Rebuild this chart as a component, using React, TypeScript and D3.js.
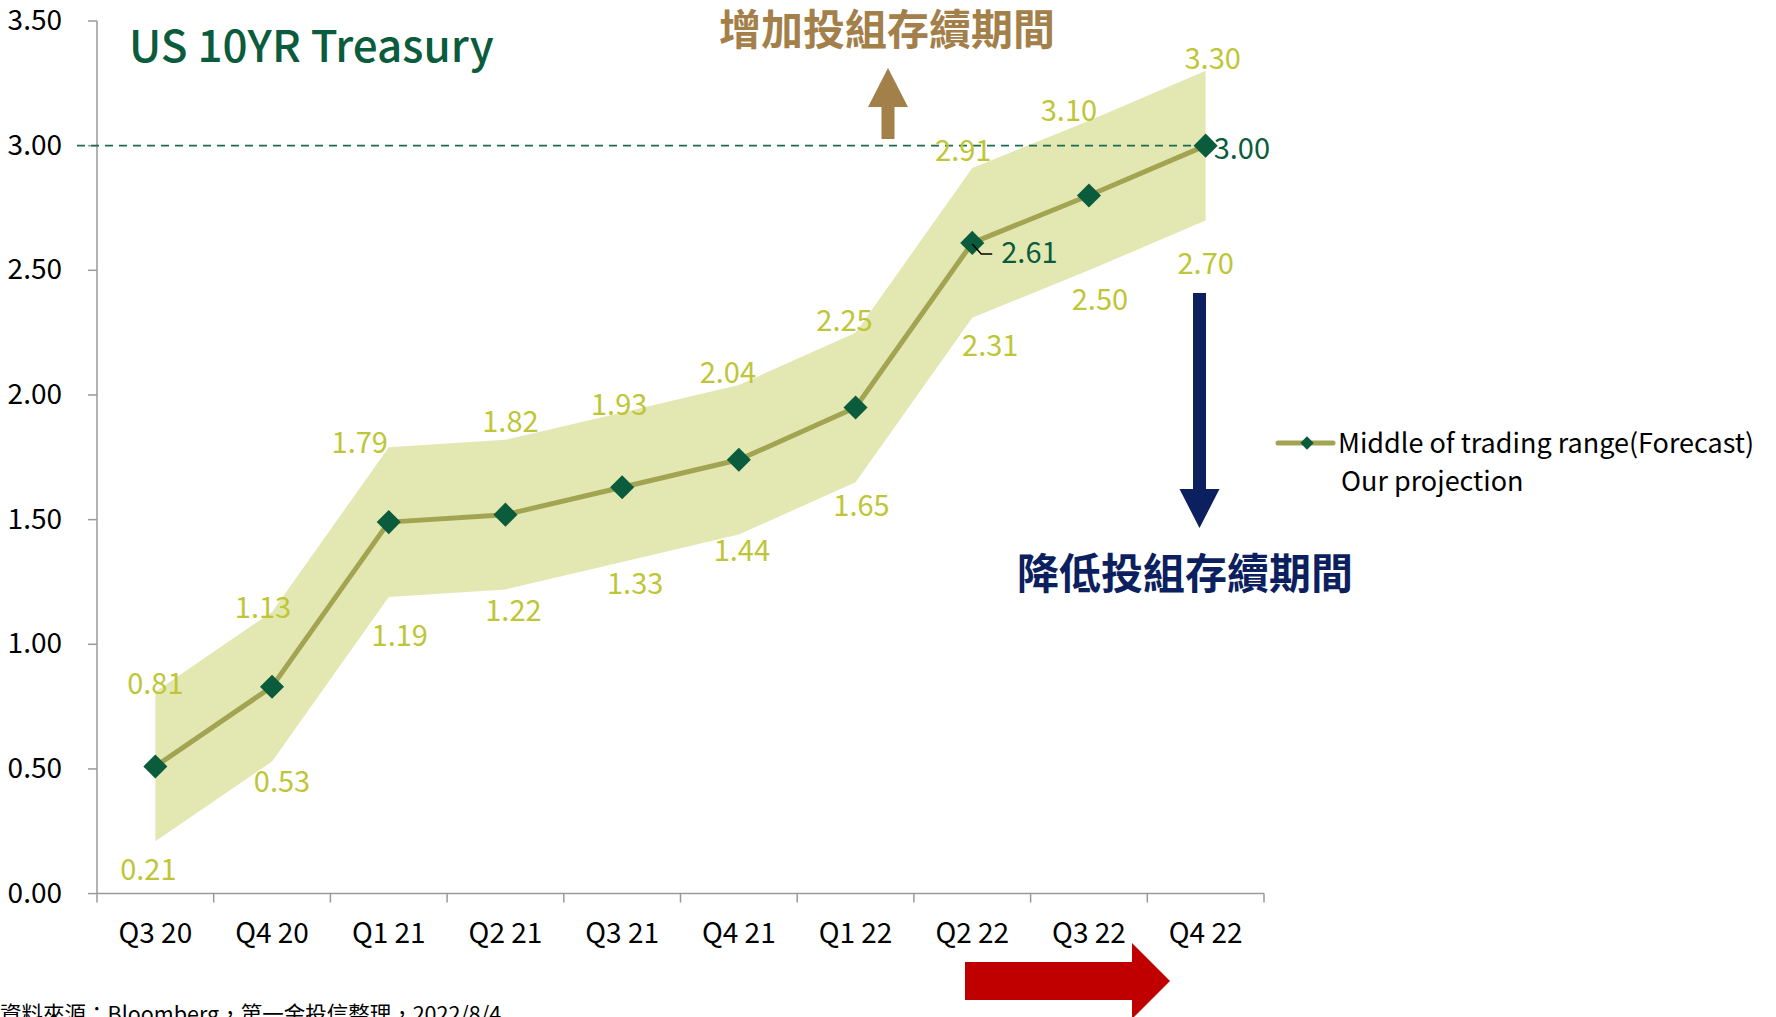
import React, { useEffect, useRef } from 'react';
import * as d3 from 'd3';

// quarters on the x axis
const quarters = ['Q3 20', 'Q4 20', 'Q1 21', 'Q2 21', 'Q3 21', 'Q4 21', 'Q1 22', 'Q2 22', 'Q3 22', 'Q4 22'];
// trading range (lower / upper edge of the band)
const rangeLow = [0.21, 0.53, 1.19, 1.22, 1.33, 1.44, 1.65, 2.31, 2.50, 2.70];
const rangeHigh = [0.81, 1.13, 1.79, 1.82, 1.93, 2.04, 2.25, 2.91, 3.10, 3.30];
// middle of trading range
const midpoint = [0.51, 0.83, 1.49, 1.52, 1.63, 1.74, 1.95, 2.61, 2.80, 3.00];
const labelledMid = ['Q2 22', 'Q4 22'];
const referenceLevel = 3.0;
const yMax = 3.5;

// hand nudges for the range labels, like the original has them
const highNudge = [[0, -7], [-9, -3], [-29, -4], [5, -17], [-3, -7], [-11, -11], [-11, -11], [-9, -17], [-20, -9], [7, -11]];
const lowNudge = [[-7, 29], [10, 21], [11, 40], [8, 22], [13, 22], [3, 17], [6, 24], [18, 29], [11, 30], [0, 44]];

const FONT = "'Noto Sans CJK TC', 'Noto Sans', sans-serif";

function App() {
    const chartRef = useRef<HTMLDivElement>(null);

    useEffect(() => {
        const root = d3.select(chartRef.current);
        root.selectAll('*').remove();

        const width = 1776;
        const height = 1017;

        const svg = root.append('svg')
            .attr('width', width)
            .attr('height', height)
            .style('position', 'absolute')
            .style('left', '0px')
            .style('top', '0px')
            .style('background', '#ffffff')
            .style('font-family', FONT);

        const x = d3.scaleBand().domain(quarters).range([97, 1264]).padding(0);
        const y = d3.scaleLinear().domain([0, yMax]).range([893.6, 21]);
        const cx = (q: string) => (x(q) as number) + x.bandwidth() / 2;

        const rows = quarters.map((q, i) => ({ q, lo: rangeLow[i], hi: rangeHigh[i], mid: midpoint[i] }));

        // band
        const area = d3.area<any>()
            .x(d => cx(d.q))
            .y0(d => y(d.lo))
            .y1(d => y(d.hi));
        svg.append('path')
            .attr('d', area(rows))
            .attr('fill', '#e3e8b3');

        // axes
        const axisColor = '#9a9a9a';
        svg.append('line')
            .attr('x1', 97).attr('x2', 97)
            .attr('y1', y(yMax)).attr('y2', y(0))
            .attr('stroke', axisColor).attr('stroke-width', 1.5);
        svg.append('line')
            .attr('x1', 97).attr('x2', 1264)
            .attr('y1', y(0)).attr('y2', y(0))
            .attr('stroke', axisColor).attr('stroke-width', 1.5);

        const yTicks = y.ticks(7);
        svg.selectAll('line.ytick')
            .data(yTicks)
            .enter()
            .append('line')
            .attr('class', 'ytick')
            .attr('x1', 88).attr('x2', 97)
            .attr('y1', d => y(d)).attr('y2', d => y(d))
            .attr('stroke', axisColor).attr('stroke-width', 1.5);
        svg.selectAll('text.ylabel')
            .data(yTicks)
            .enter()
            .append('text')
            .attr('class', 'ylabel')
            .attr('x', 62)
            .attr('y', d => y(d) + 9)
            .attr('text-anchor', 'end')
            .attr('font-size', 28)
            .attr('fill', '#000')
            .text(d => d3.format('.2f')(d));

        const xEdges = quarters.map(q => x(q) as number).concat([x.range()[1]]);
        svg.selectAll('line.xtick')
            .data(xEdges)
            .enter()
            .append('line')
            .attr('class', 'xtick')
            .attr('x1', d => d).attr('x2', d => d)
            .attr('y1', y(0)).attr('y2', y(0) + 9)
            .attr('stroke', axisColor).attr('stroke-width', 1.5);
        svg.selectAll('text.xlabel')
            .data(quarters)
            .enter()
            .append('text')
            .attr('class', 'xlabel')
            .attr('x', d => cx(d))
            .attr('y', 943)
            .attr('text-anchor', 'middle')
            .attr('font-size', 28)
            .attr('fill', '#000')
            .text(d => d);

        // 3.00 reference line
        svg.append('line')
            .attr('x1', 77).attr('x2', cx(quarters[quarters.length - 1]))
            .attr('y1', y(referenceLevel)).attr('y2', y(referenceLevel))
            .attr('stroke', '#1f6b4f')
            .attr('stroke-width', 1.6)
            .attr('stroke-dasharray', '8,6');

        // range labels
        const rangeColor = '#bec637';
        svg.selectAll('text.hi')
            .data(rows)
            .enter()
            .append('text')
            .attr('class', 'hi')
            .attr('x', (d, i) => cx(d.q) + highNudge[i][0])
            .attr('y', (d, i) => y(d.hi) + highNudge[i][1] + 9.5)
            .attr('text-anchor', 'middle')
            .attr('font-size', 29)
            .attr('fill', rangeColor)
            .text(d => d3.format('.2f')(d.hi));
        svg.selectAll('text.lo')
            .data(rows)
            .enter()
            .append('text')
            .attr('class', 'lo')
            .attr('x', (d, i) => cx(d.q) + lowNudge[i][0])
            .attr('y', (d, i) => y(d.lo) + lowNudge[i][1] + 9.5)
            .attr('text-anchor', 'middle')
            .attr('font-size', 29)
            .attr('fill', rangeColor)
            .text(d => d3.format('.2f')(d.lo));

        // middle line + diamonds
        const line = d3.line<any>()
            .x(d => cx(d.q))
            .y(d => y(d.mid));
        svg.append('path')
            .attr('d', line(rows))
            .attr('fill', 'none')
            .attr('stroke', '#a3a452')
            .attr('stroke-width', 5)
            .attr('stroke-linejoin', 'round');

        const diamond = d3.symbol(d3.symbolSquare, 290);
        svg.selectAll('path.marker')
            .data(rows)
            .enter()
            .append('path')
            .attr('class', 'marker')
            .attr('d', diamond)
            .attr('transform', d => `translate(${cx(d.q)},${y(d.mid)}) rotate(45)`)
            .attr('fill', '#0a5c3c');

        // labels for the middle values that are called out
        const midColor = '#0a5c3c';
        rows.filter(d => labelledMid.includes(d.q)).forEach((d, k) => {
            const px = cx(d.q);
            const py = y(d.mid);
            if (k === 0) {
                svg.append('path')
                    .attr('d', `M${px},${py + 1} L${px + 9},${py + 11} L${px + 20},${py + 11}`)
                    .attr('fill', 'none')
                    .attr('stroke', '#000')
                    .attr('stroke-width', 1.5);
                svg.append('text')
                    .attr('x', px + 29)
                    .attr('y', py + 11 + 9.5)
                    .attr('font-size', 29)
                    .attr('fill', midColor)
                    .text(d3.format('.2f')(d.mid));
            } else {
                svg.append('text')
                    .attr('x', px + 8)
                    .attr('y', py + 4 + 9.5)
                    .attr('font-size', 29)
                    .attr('fill', midColor)
                    .text(d3.format('.2f')(d.mid));
            }
        });

        // title
        svg.append('text')
            .attr('x', 129)
            .attr('y', 62)
            .attr('font-size', 44)
            .attr('font-weight', 500)
            .attr('fill', '#0a5c3c')
            .text('US 10YR Treasury');

        // duration arrows and notes
        const gold = '#a3804a';
        svg.append('text')
            .attr('x', 887)
            .attr('y', 45)
            .attr('text-anchor', 'middle')
            .attr('font-size', 42)
            .attr('font-weight', 700)
            .attr('fill', gold)
            .text('增加投組存續期間');
        svg.append('path')
            .attr('d', 'M888,68 L908,107 L894.5,107 L894.5,139 L881.5,139 L881.5,107 L868,107 Z')
            .attr('fill', gold);

        const navy = '#0c1f5f';
        svg.append('path')
            .attr('d', 'M1193,293 L1206,293 L1206,489 L1219.5,489 L1199.5,528 L1179.5,489 L1193,489 Z')
            .attr('fill', navy);
        svg.append('text')
            .attr('x', 1185)
            .attr('y', 589)
            .attr('text-anchor', 'middle')
            .attr('font-size', 42)
            .attr('font-weight', 700)
            .attr('fill', navy)
            .text('降低投組存續期間');

        svg.append('path')
            .attr('d', 'M965,962 L1132,962 L1132,943 L1170,981 L1132,1019 L1132,1000 L965,1000 Z')
            .attr('fill', '#c00000');

        // legend
        const legend = svg.append('g').attr('transform', 'translate(1278,443)');
        legend.append('line')
            .attr('x1', 0).attr('x2', 55)
            .attr('y1', 0).attr('y2', 0)
            .attr('stroke', '#a3a452')
            .attr('stroke-width', 5)
            .attr('stroke-linecap', 'round');
        legend.append('path')
            .attr('d', d3.symbol(d3.symbolSquare, 90)())
            .attr('transform', 'translate(29,0) rotate(45)')
            .attr('fill', '#0a5c3c');
        legend.append('text')
            .attr('x', 60)
            .attr('y', 10)
            .attr('font-size', 27)
            .attr('fill', '#000')
            .text('Middle of trading range(Forecast)');
        legend.append('text')
            .attr('x', 63)
            .attr('y', 48)
            .attr('font-size', 27)
            .attr('fill', '#000')
            .text('Our projection');

        // source
        svg.append('text')
            .attr('x', 0)
            .attr('y', 1022)
            .attr('font-size', 21.5)
            .attr('fill', '#000')
            .text('資料來源：Bloomberg，第一金投信整理，2022/8/4');
    }, []);

    return (
        <div ref={chartRef}></div>
    );
}

export default App;
